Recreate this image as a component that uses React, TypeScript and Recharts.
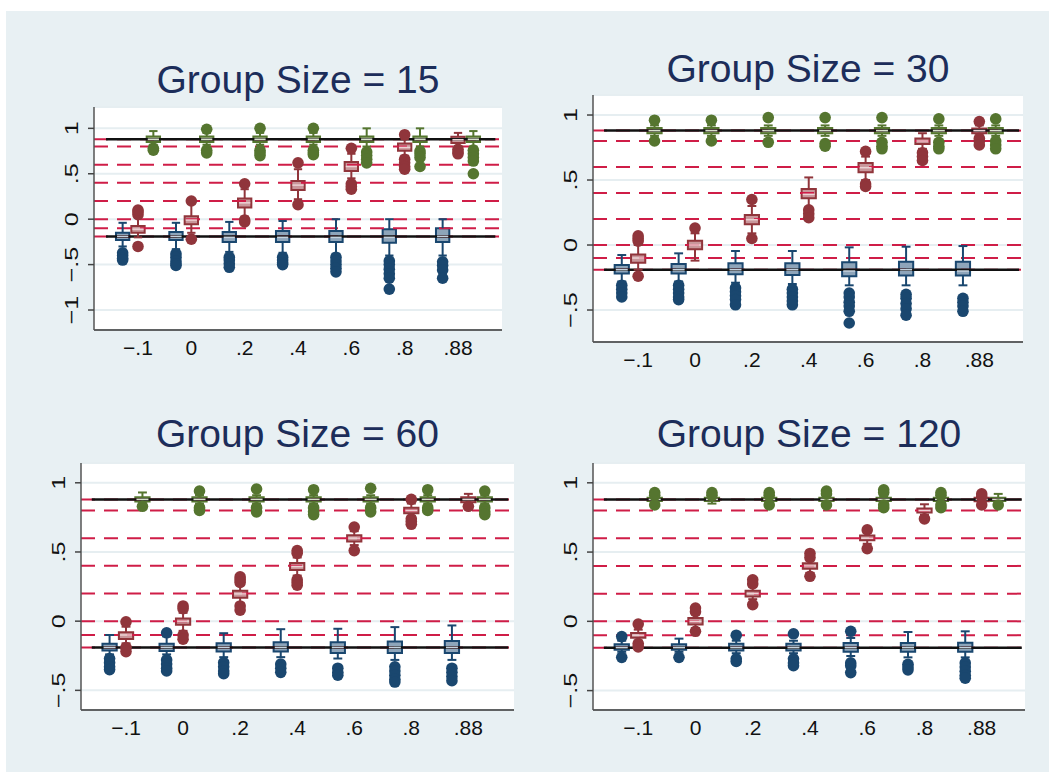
import React from 'react'
import { ComposedChart, XAxis, YAxis, CartesianGrid, ReferenceLine, ReferenceArea, Scatter } from 'recharts'

const FONT = '"Liberation Sans", Arial, Helvetica, sans-serif'

const categories = ['−.1', '0', '.2', '.4', '.6', '.8', '.88']
const titles = ['Group Size = 15', 'Group Size = 30', 'Group Size = 60', 'Group Size = 120']
const targetLevels = [0.88, 0.8, 0.6, 0.4, 0.2, 0, -0.1, -0.19]
const trueLevels = [0.88, -0.19]
const yTicks15 = [-1, -0.5, 0, 0.5, 1]
const yTicksRest = [-0.5, 0, 0.5, 1]

// box = [lower whisker, q1, median, q3, upper whisker]
const blue15 = [
  [-0.3, -0.23, -0.19, -0.15, -0.04], [-0.33, -0.23, -0.19, -0.14, -0.04], [-0.36, -0.25, -0.2, -0.14, -0.03],
  [-0.37, -0.25, -0.2, -0.13, -0.02], [-0.38, -0.25, -0.2, -0.13, 0], [-0.4, -0.26, -0.2, -0.11, 0], [-0.4, -0.25, -0.19, -0.1, 0],
]
const blue15Out = [
  [-0.37, -0.4, -0.43, -0.45], [-0.38, -0.42, -0.46, -0.49, -0.51], [-0.42, -0.45, -0.49, -0.53],
  [-0.42, -0.45, -0.48, -0.5], [-0.42, -0.46, -0.5, -0.54, -0.58], [-0.46, -0.5, -0.55, -0.6, -0.65, -0.77], [-0.47, -0.51, -0.56, -0.65],
]
const red15 = [
  [-0.2, -0.15, -0.11, -0.075, 0.02], [-0.15, -0.055, -0.01, 0.033, 0.17], [0.03, 0.128, 0.18, 0.228, 0.33],
  [0.22, 0.32, 0.375, 0.42, 0.55], [0.45, 0.53, 0.58, 0.63, 0.72], [0.7, 0.753, 0.79, 0.833, 0.88], [0.8, 0.84, 0.875, 0.907, 0.95],
]
const red15Out = [
  [0.05, 0.08, 0.1, -0.3], [0.2, -0.22], [0.39, -0.01, -0.03],
  [0.62, 0.16], [0.78, 0.39, 0.36, 0.33], [0.93, 0.66, 0.62, 0.58, 0.55], [0.77, 0.74, 0.72],
]
const green15 = [
  [0.82, 0.85, 0.88, 0.91, 0.97], [0.82, 0.85, 0.88, 0.91, 0.95], [0.82, 0.85, 0.88, 0.91, 0.95],
  [0.82, 0.85, 0.88, 0.91, 0.95], [0.8, 0.85, 0.88, 0.91, 1.0], [0.8, 0.85, 0.88, 0.91, 1.0], [0.8, 0.85, 0.88, 0.91, 0.97],
]
const green15Out = [
  [0.78, 0.76], [0.99, 0.76, 0.73], [1.0, 0.76, 0.73, 0.7],
  [1.0, 0.76, 0.73, 0.71], [0.74, 0.7, 0.66, 0.62], [0.75, 0.72, 0.68, 0.58], [0.76, 0.72, 0.68, 0.64, 0.5],
]

const blue30 = [
  [-0.28, -0.22, -0.19, -0.154, -0.077], [-0.28, -0.22, -0.19, -0.146, -0.064], [-0.29, -0.225, -0.19, -0.141, -0.046],
  [-0.3, -0.23, -0.19, -0.141, -0.046], [-0.31, -0.24, -0.2, -0.133, -0.018], [-0.31, -0.235, -0.19, -0.128, -0.013], [-0.31, -0.235, -0.2, -0.128, -0.008],
]
const blue30Out = [
  [-0.31, -0.34, -0.37, -0.4], [-0.31, -0.34, -0.37, -0.4, -0.42], [-0.33, -0.36, -0.39, -0.42, -0.46],
  [-0.34, -0.37, -0.4, -0.43, -0.46], [-0.37, -0.4, -0.44, -0.47, -0.51, -0.6], [-0.38, -0.41, -0.45, -0.49, -0.54], [-0.41, -0.44, -0.47, -0.51],
]
const red30 = [
  [-0.19, -0.136, -0.1, -0.072, 0], [-0.12, -0.033, 0, 0.033, 0.09], [0.09, 0.16, 0.195, 0.23, 0.3],
  [0.29, 0.36, 0.39, 0.43, 0.52], [0.5, 0.56, 0.595, 0.63, 0.68], [0.74, 0.777, 0.8, 0.82, 0.86], [0.84, 0.86, 0.88, 0.897, 0.92],
]
const red30Out = [
  [0.03, 0.05, 0.07, -0.24], [0.13], [0.35, 0.05],
  [0.27, 0.24, 0.21], [0.72, 0.47, 0.45], [0.71, 0.68, 0.65], [0.95, 0.82, 0.8, 0.77],
]
const green30 = [
  [0.84, 0.86, 0.88, 0.9, 0.92], [0.84, 0.86, 0.88, 0.9, 0.92], [0.84, 0.86, 0.88, 0.9, 0.92],
  [0.84, 0.86, 0.88, 0.9, 0.92], [0.84, 0.86, 0.88, 0.9, 0.92], [0.84, 0.86, 0.88, 0.9, 0.92], [0.84, 0.86, 0.88, 0.9, 0.92],
]
const green30Out = [
  [0.96, 0.8], [0.96, 0.8], [0.98, 0.79],
  [0.98, 0.78, 0.76], [0.98, 0.79, 0.76, 0.74], [0.97, 0.79, 0.76, 0.74], [0.97, 0.8, 0.77, 0.74],
]

const blue60 = [
  [-0.24, -0.212, -0.19, -0.164, -0.1], [-0.24, -0.215, -0.19, -0.164, -0.11], [-0.26, -0.22, -0.19, -0.159, -0.087],
  [-0.26, -0.22, -0.19, -0.152, -0.058], [-0.27, -0.23, -0.19, -0.152, -0.055], [-0.28, -0.23, -0.19, -0.147, -0.043], [-0.28, -0.23, -0.19, -0.144, -0.031],
]
const blue60Out = [
  [-0.27, -0.3, -0.33, -0.35], [-0.084, -0.28, -0.31, -0.34, -0.36], [-0.3, -0.33, -0.36, -0.38],
  [-0.31, -0.34, -0.37], [-0.34, -0.37, -0.39], [-0.33, -0.36, -0.39, -0.42, -0.44], [-0.34, -0.37, -0.4, -0.43],
]
const red60 = [
  [-0.16, -0.128, -0.1, -0.08, -0.04], [-0.07, -0.026, 0, 0.02, 0.06], [0.13, 0.17, 0.197, 0.22, 0.26],
  [0.33, 0.37, 0.395, 0.42, 0.46], [0.55, 0.575, 0.6, 0.62, 0.65], [0.76, 0.78, 0.8, 0.82, 0.85], [0.85, 0.86, 0.88, 0.895, 0.92],
]
const red60Out = [
  [-0.005, -0.19, -0.22], [0.11, 0.09, -0.1, -0.13], [0.32, 0.3, 0.28, 0.11, 0.08],
  [0.51, 0.49, 0.3, 0.28, 0.26], [0.68, 0.51], [0.88, 0.74, 0.72, 0.7], [0.83],
]
const green60 = [
  [0.85, 0.865, 0.88, 0.895, 0.93], [0.85, 0.865, 0.88, 0.895, 0.91], [0.85, 0.865, 0.88, 0.895, 0.91],
  [0.85, 0.865, 0.88, 0.895, 0.91], [0.85, 0.865, 0.88, 0.895, 0.91], [0.85, 0.865, 0.88, 0.895, 0.91], [0.85, 0.865, 0.88, 0.895, 0.91],
]
const green60Out = [
  [0.83], [0.94, 0.82, 0.8], [0.955, 0.82, 0.79],
  [0.95, 0.82, 0.79, 0.77], [0.96, 0.82, 0.79], [0.95, 0.82, 0.8], [0.94, 0.82, 0.79, 0.77],
]

const blue120 = [
  [-0.22, -0.205, -0.19, -0.166, -0.14], [-0.22, -0.205, -0.19, -0.166, -0.125], [-0.23, -0.21, -0.19, -0.161, -0.14],
  [-0.23, -0.21, -0.19, -0.161, -0.14], [-0.25, -0.22, -0.19, -0.156, -0.12], [-0.26, -0.22, -0.19, -0.156, -0.077], [-0.26, -0.22, -0.19, -0.154, -0.072],
]
const blue120Out = [
  [-0.11, -0.26], [-0.26], [-0.1, -0.27, -0.29],
  [-0.09, -0.27, -0.3, -0.32], [-0.072, -0.3, -0.32, -0.37], [-0.31, -0.33, -0.35], [-0.3, -0.33, -0.36, -0.39, -0.41],
]
const red120 = [
  [-0.14, -0.118, -0.1, -0.084, -0.06], [-0.05, -0.022, 0, 0.024, 0.05], [0.16, 0.18, 0.2, 0.22, 0.25],
  [0.35, 0.38, 0.4, 0.42, 0.44], [0.56, 0.585, 0.6, 0.62, 0.64], [0.77, 0.785, 0.8, 0.815, 0.845], [0.86, 0.867, 0.88, 0.893, 0.9],
]
const red120Out = [
  [-0.02, -0.16, -0.185], [0.096, 0.07, -0.072], [0.3, 0.27, 0.12],
  [0.49, 0.46, 0.325], [0.66, 0.525], [0.74], [0.92, 0.9, 0.84],
]
const green120 = [
  [0.86, 0.868, 0.88, 0.892, 0.9], [0.85, 0.868, 0.88, 0.892, 0.9], [0.86, 0.868, 0.88, 0.892, 0.9],
  [0.86, 0.868, 0.88, 0.892, 0.9], [0.86, 0.868, 0.88, 0.892, 0.9], [0.86, 0.868, 0.88, 0.892, 0.9], [0.86, 0.868, 0.88, 0.892, 0.92],
]
const green120Out = [
  [0.93, 0.91, 0.84], [0.93, 0.91], [0.93, 0.91, 0.84],
  [0.94, 0.92, 0.84], [0.95, 0.93, 0.84, 0.82], [0.93, 0.91, 0.84, 0.82], [0.84],
]

const BLUE = { dark: '#1a476f', light: '#8ea5ba', mid: '#c5d2de', shift: -0.288 }
const RED = { dark: '#90353b', light: '#c9979b', mid: '#ecd3d5', shift: 0 }
const GREEN = { dark: '#55752f', light: '#a7b98f', mid: '#d7e0cb', shift: 0.288 }

const panelData = [
  { boxes: [blue15, red15, green15], outs: [blue15Out, red15Out, green15Out], yTicks: yTicks15 },
  { boxes: [blue30, red30, green30], outs: [blue30Out, red30Out, green30Out], yTicks: yTicksRest },
  { boxes: [blue60, red60, green60], outs: [blue60Out, red60Out, green60Out], yTicks: yTicksRest },
  { boxes: [blue120, red120, green120], outs: [blue120Out, red120Out, green120Out], yTicks: yTicksRest },
]

const frames = [
  { left: 94, top: 107, right: 502, bottom: 330, xDom: [-0.825, 6.825], yDom: [-1.22, 1.235], titleY: 93 },
  { left: 593, top: 95, right: 1023, bottom: 342, xDom: [-0.794, 6.768], yDom: [-0.746, 1.154], titleY: 82 },
  { left: 81, top: 463, right: 514, bottom: 710, xDom: [-0.789, 6.8], yDom: [-0.642, 1.143], titleY: 447 },
  { left: 593, top: 463, right: 1025, bottom: 710, xDom: [-0.79, 6.756], yDom: [-0.64, 1.143], titleY: 447 },
]

const BOX = 0.125
const CAP = 0.078
const DOT = 5.8
const styles = [BLUE, RED, GREEN]

const fmt = (v: number) => {
  if (v === 0) return '0'
  const a = Math.abs(v)
  const s = a === 1 ? '1' : String(a).replace(/^0/, '')
  return (v < 0 ? '−' : '') + s
}

function YTick(props: any) {
  const { x, y, payload } = props
  return (
    <g transform={`translate(${x},${y}) rotate(-90) scale(1.05,0.8)`}>
      <text x={0} y={-13} textAnchor="middle" fontSize={24} fill="#111" fontFamily={FONT}>
        {fmt(payload.value)}
      </text>
    </g>
  )
}

function Panel({ idx }: { idx: number }) {
  const f = frames[idx]
  const d = panelData[idx]
  const w = f.right - f.left
  const h = f.bottom - f.top

  const boxEls: any[] = []
  d.boxes.forEach((rows, si) => {
    const st = styles[si]
    rows.forEach((b, i) => {
      const [lo, q1, med, q3, hi] = b
      const x = i + st.shift
      const k = `${si}-${i}`
      boxEls.push(
        <ReferenceLine key={`wu${k}`} segment={[{ x, y: q3 }, { x, y: hi }]} stroke={st.dark} strokeWidth={2} />,
        <ReferenceLine key={`wl${k}`} segment={[{ x, y: lo }, { x, y: q1 }]} stroke={st.dark} strokeWidth={2} />,
        <ReferenceLine key={`cu${k}`} segment={[{ x: x - CAP, y: hi }, { x: x + CAP, y: hi }]} stroke={st.dark} strokeWidth={2} />,
        <ReferenceLine key={`cl${k}`} segment={[{ x: x - CAP, y: lo }, { x: x + CAP, y: lo }]} stroke={st.dark} strokeWidth={2} />,
        <ReferenceArea key={`b${k}`} x1={x - BOX} x2={x + BOX} y1={q1} y2={q3} fill={st.light} fillOpacity={1} stroke={st.dark} strokeWidth={2} />,
        <ReferenceLine key={`m${k}`} segment={[{ x: x - BOX + 0.02, y: med }, { x: x + BOX - 0.02, y: med }]} stroke={st.mid} strokeWidth={1.5} />,
      )
    })
  })

  return (
    <div style={{ position: 'absolute', left: f.left - 60, top: f.top - 10 }}>
      <ComposedChart width={w + 70} height={h + 55} margin={{ top: 10, right: 10, bottom: 0, left: 0 }}>
        <CartesianGrid vertical={false} fill="#ffffff" stroke="#e6eef1" strokeWidth={2} />
        <XAxis
          type="number"
          dataKey="x"
          domain={f.xDom}
          ticks={[0, 1, 2, 3, 4, 5, 6]}
          tickFormatter={(i: number) => categories[i]}
          allowDataOverflow
          interval={0}
          tickLine={false}
          tickSize={0}
          tickMargin={10}
          height={45}
          axisLine={{ stroke: '#333', strokeWidth: 1.5 }}
          tick={{ fontSize: 21, fill: '#111', fontFamily: FONT }}
        />
        <YAxis
          type="number"
          dataKey="y"
          domain={f.yDom}
          ticks={d.yTicks}
          allowDataOverflow
          interval={0}
          width={60}
          tickSize={6}
          tickMargin={0}
          tickLine={{ stroke: '#444', strokeWidth: 1.5 }}
          axisLine={{ stroke: '#555', strokeWidth: 1.5 }}
          tick={<YTick />}
        />
        {targetLevels.map((v) => (
          <ReferenceLine key={`t${v}`} y={v} stroke="#cf1d47" strokeWidth={2} strokeDasharray="14 9" />
        ))}
        {trueLevels.map((v) => (
          <ReferenceLine key={`k${v}`} segment={[{ x: -0.6, y: v }, { x: 6.7, y: v }]} stroke="#111" strokeWidth={2.5} />
        ))}
        {boxEls}
        {d.outs.map((rows, si) => {
          const st = styles[si]
          const pts = rows.flatMap((vals, i) => vals.map((y) => ({ x: i + st.shift, y })))
          return (
            <Scatter
              key={`o${si}`}
              data={pts}
              isAnimationActive={false}
              fill={st.dark}
              shape={(p: any) => <circle cx={p.cx} cy={p.cy} r={DOT} fill={st.dark} />}
            />
          )
        })}
      </ComposedChart>
    </div>
  )
}

export default function App() {
  return (
    <div style={{ position: 'absolute', left: 0, top: 0, width: 1049, height: 772, background: '#ffffff', overflow: 'hidden' }}>
      <div style={{ position: 'absolute', left: 6, top: 11, width: 1043, height: 761, background: '#e8f0f3' }} />
      <svg width={1049} height={772} style={{ position: 'absolute', left: 0, top: 0 }}>
        {frames.map((f, i) => (
          <text key={i} x={(f.left + f.right) / 2} y={f.titleY} textAnchor="middle" fontSize={39} fill="#1c2d5a" fontFamily={FONT}>
            {titles[i]}
          </text>
        ))}
      </svg>
      {frames.map((_, i) => (
        <Panel key={i} idx={i} />
      ))}
    </div>
  )
}
